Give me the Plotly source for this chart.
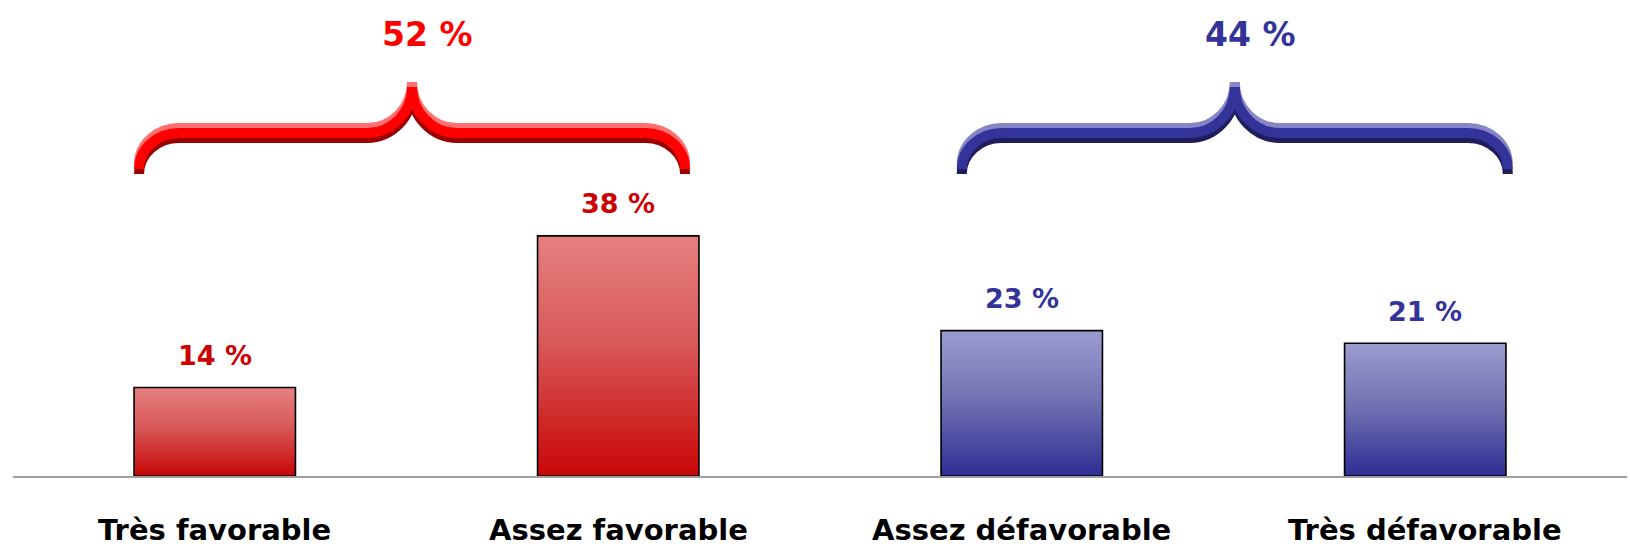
import plotly.graph_objects as go

# Data
categories = ["Très favorable", "Assez favorable", "Assez défavorable", "Très défavorable"]
values = [14, 38, 23, 21]
groups = [[0, 1], [2, 3]]

# Styles
bar_top = ["#e68080", "#e68080", "#9c9ccf", "#9c9ccf"]
bar_mid = ["#d85858", "#d85858", "#7474b4", "#7474b4"]
bar_bot = ["#c80606", "#c80606", "#2e2e94", "#2e2e94"]
label_colors = ["#cc0000", "#cc0000", "#333399", "#333399"]
brace_colors = [("#ff7070", "#ff0000", "#990000"), ("#8686c6", "#333399", "#1e1e5e")]
total_colors = ["#ff0000", "#333399"]
brace_shift = [-0.011, 0.028]

W, H = 1630, 554
ML, MR, MT, MB = 13, 3, 0, 78
XR = [-0.5, 3.5]
YMAX = 75.32
PX_X = (W - ML - MR) / (XR[1] - XR[0])
PX_Y = (H - MT - MB) / YMAX
BAR_W = 0.4

fig = go.Figure()

# bars with vertical gradient
for i, v in enumerate(values):
    x0, x1 = i - BAR_W / 2, i + BAR_W / 2
    fig.add_trace(go.Scatter(
        x=[x0, x0, x1, x1, x0], y=[0, v, v, 0, 0],
        mode="lines", fill="toself",
        fillgradient=dict(type="vertical", start=0, stop=v,
                          colorscale=[[0, bar_bot[i]], [0.55, bar_mid[i]], [1, bar_top[i]]]),
        line=dict(color="black", width=1.6),
        hoverinfo="text", text=f"{categories[i]}: {v} %",
        showlegend=False,
    ))
    fig.add_annotation(x=i, y=v, text=f"{v} %", showarrow=False,
                       yanchor="middle", yshift=32,
                       font=dict(family="DejaVu Sans", size=27, color=label_colors[i],
                                 weight="bold"))
    # category label under the axis
    fig.add_annotation(x=i, y=-54 / (H - MT - MB), yref="paper", text=categories[i],
                       showarrow=False, yanchor="middle",
                       font=dict(family="DejaVu Sans", size=29, color="black", weight="bold"))


def brace_path(cx, dy):
    # geometry in pixels, converted to data units
    def px(dx):
        return cx + dx / PX_X

    def py(h):
        return (h + dy) / PX_Y

    half, tip, flat, peak = 273, 307, 343, 389
    L, R = -half, half
    pts = [
        f"M {px(L)},{py(tip)}",
        f"C {px(L)},{py(tip + 20)} {px(L + 18)},{py(flat)} {px(L + 40)},{py(flat)}",
        f"L {px(-45)},{py(flat)}",
        f"C {px(-20)},{py(flat)} {px(0)},{py(peak - 25)} {px(0)},{py(peak)}",
        f"C {px(0)},{py(peak - 25)} {px(20)},{py(flat)} {px(45)},{py(flat)}",
        f"L {px(R - 40)},{py(flat)}",
        f"C {px(R - 18)},{py(flat)} {px(R)},{py(tip + 20)} {px(R)},{py(tip)}",
    ]
    return " ".join(pts)


for g, idx in enumerate(groups):
    cx = sum(idx) / len(idx) + brace_shift[g]
    light, mid, dark = brace_colors[g]
    for col, dy in [(light, 5), (dark, -5), (mid, 0)]:
        fig.add_shape(type="path", path=brace_path(cx, dy), xref="x", yref="y",
                      line=dict(color=col, width=10))
    total = sum(values[i] for i in idx)
    fig.add_annotation(x=cx, y=442 / PX_Y, text=f"{total} %", showarrow=False,
                       xshift=15, yanchor="middle",
                       font=dict(family="DejaVu Sans", size=33, color=total_colors[g],
                                 weight="bold"))

fig.update_layout(
    width=W, height=H,
    margin=dict(l=ML, r=MR, t=MT, b=MB),
    paper_bgcolor="white", plot_bgcolor="white",
    showlegend=False,
)
fig.update_xaxes(range=XR, showticklabels=False, automargin=False,
                 showline=True, linecolor="#a0a0a0", linewidth=2, showgrid=False,
                 zeroline=False, ticks="")
fig.update_yaxes(range=[0, YMAX], visible=False, showgrid=False, zeroline=False,
                 automargin=False)

# page body has a default 8px margin; remove it so the figure sits at the corner
fig.write_html("out.html", config={"displayModeBar": False},
               post_script="document.body.style.margin='0';")
